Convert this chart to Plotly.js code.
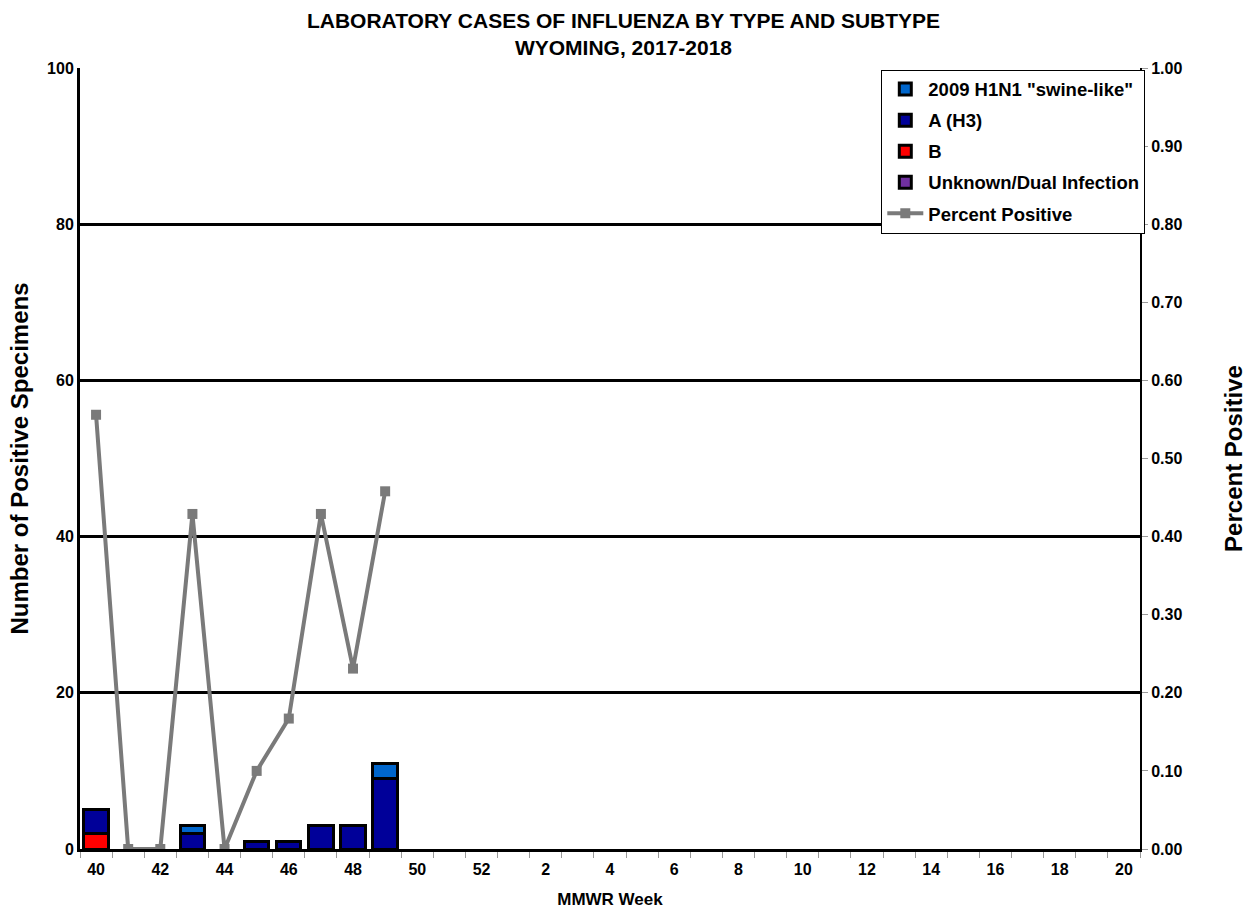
<!DOCTYPE html>
<html>
<head>
<meta charset="utf-8">
<script src="https://cdn.plot.ly/plotly-3.0.1.min.js"></script>
<style>html,body{margin:0;padding:0;background:#fff;}#chart{width:1247px;height:909px;}</style>
</head>
<body>
<div id="chart"></div>
<script>
const weeks = ['40','41','42','43','44','45','46','47','48','49','50','51','52',
  '1','2','3','4','5','6','7','8','9','10','11','12','13','14','15','16','17','18','19','20'];
const h1n1    = [0,0,0,1,0,0,0,0,0,2];
const h3      = [3,0,0,2,0,1,1,3,3,9];
const fluB    = [2,0,0,0,0,0,0,0,0,0];
const unknown = [0,0,0,0,0,0,0,0,0,0];
const pctPos  = [0.556,0,0,0.429,0,0.10,0.167,0.429,0.231,0.458];
const tickLabels = weeks.map((w,i)=> i%2===0 ? w : '');

const dataWeeks = weeks.slice(0, pctPos.length);
const nz = arr => arr.map(v => v === 0 ? null : v);
const fam = '"Liberation Sans", Arial, sans-serif';
const font = {family:fam, color:'#000'};
const barLine = {color:'#000', width:3};

const traces = [
  {type:'bar', name:'B', x:dataWeeks, y:nz(fluB), marker:{color:'#ff0000', line:barLine}, legendrank:3, legendgroup:'c'},
  {type:'bar', name:'Unknown/Dual Infection', x:dataWeeks, y:nz(unknown), marker:{color:'#7030a0', line:barLine}, legendrank:4, legendgroup:'d'},
  {type:'bar', name:'A (H3)', x:dataWeeks, y:nz(h3), marker:{color:'#000099', line:barLine}, legendrank:2, legendgroup:'b'},
  {type:'bar', name:'2009 H1N1 "swine-like"', x:dataWeeks, y:nz(h1n1), marker:{color:'#0066cc', line:barLine}, legendrank:1, legendgroup:'a'},
  {type:'scatter', mode:'lines+markers', name:'Percent Positive', x:dataWeeks, y:pctPos, yaxis:'y2',
   line:{color:'#7a7a7a', width:4}, marker:{symbol:'square', size:10, color:'#7a7a7a'}, legendrank:5, legendgroup:'e'}
];

const layout = {
  width:1247, height:909,
  margin:{l:80, r:107, t:68, b:60},
  paper_bgcolor:'#fff', plot_bgcolor:'#fff',
  font: font,
  title:{text:'<b>LABORATORY CASES OF INFLUENZA BY TYPE AND SUBTYPE<br>WYOMING, 2017-2018</b>',
    x:0.5, xanchor:'center', y:0.969, yanchor:'top', font:{family:fam, size:21, color:'#000'}},
  barmode:'stack', bargap:0.24,
  showlegend:true,
  legend:{x:1.005, xanchor:'right', y:0.998, yanchor:'top', bgcolor:'#fff', bordercolor:'#000', borderwidth:1,
    traceorder:'grouped', font:{family:fam, size:18.5, color:'#000', weight:'bold'}, tracegroupgap:4,
    itemwidth:36},
  xaxis:{type:'category', categoryorder:'array', categoryarray:weeks, range:[-0.5, weeks.length-0.5],
    tickmode:'array', tickvals:weeks, ticktext:tickLabels, tickson:'boundaries',
    ticks:'outside', ticklen:6, tickcolor:'#999', tickwidth:1, ticklabelstandoff:4,
    showline:true, linecolor:'#000', linewidth:3, mirror:false, showgrid:false, zeroline:false,
    tickfont:{family:fam, size:16, color:'#000', weight:'bold'},
    title:{text:'<b>MMWR Week</b>', standoff:16, font:{family:fam, size:17, color:'#000'}}},
  yaxis:{range:[0,100], tickvals:[0,20,40,60,80,100], ticks:'', showgrid:true, gridcolor:'#000', gridwidth:3,
    showline:true, linecolor:'#000', linewidth:3, zeroline:false,
    tickfont:{family:fam, size:16, color:'#000', weight:'bold'},
    title:{text:'<b>Number of Positive Specimens</b>', standoff:12, font:{family:fam, size:24, color:'#000'}}},
  yaxis2:{overlaying:'y', side:'right', range:[0,1], tickvals:[0,0.1,0.2,0.3,0.4,0.5,0.6,0.7,0.8,0.9,1.0],
    tickformat:'.2f', ticks:'outside', ticklen:6, tickcolor:'#999', showgrid:false, zeroline:false,
    showline:true, linecolor:'#000', linewidth:2,
    tickfont:{family:fam, size:16, color:'#000', weight:'bold'},
    title:{text:'<b>Percent Positive</b>', standoff:44, font:{family:fam, size:24, color:'#000'}}}
};

Plotly.newPlot('chart', traces, layout, {displayModeBar:false, staticPlot:true});
</script>
</body>
</html>
